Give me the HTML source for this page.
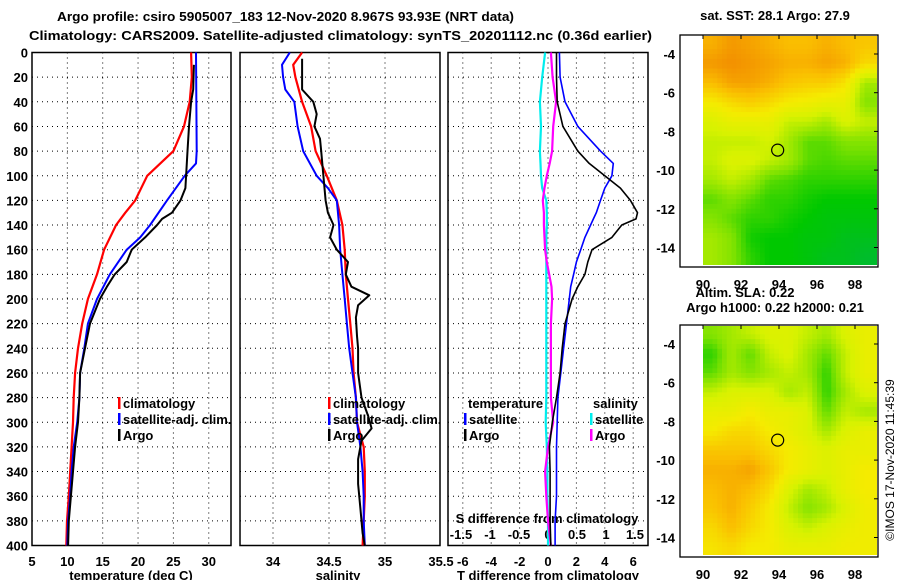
<!DOCTYPE html>
<html><head><meta charset="utf-8"><style>
body{margin:0;background:#fff;}
svg{display:block;font-family:"Liberation Sans",sans-serif;font-weight:bold;font-size:13px;}
</style></head><body>
<svg id="c" width="900" height="580" viewBox="0 0 900 580">
<text x="57" y="21" textLength="457" lengthAdjust="spacingAndGlyphs">Argo profile: csiro 5905007_183 12-Nov-2020 8.967S 93.93E (NRT data)</text>
<text x="29" y="40" textLength="623" lengthAdjust="spacingAndGlyphs">Climatology: CARS2009. Satellite-adjusted climatology: synTS_20201112.nc (0.36d earlier)</text>
<text x="775" y="20" text-anchor="middle">sat. SST: 28.1 Argo: 27.9</text>
<text x="745" y="297" text-anchor="middle">Altim. SLA: 0.22</text>
<text x="775" y="312" text-anchor="middle">Argo h1000: 0.22 h2000: 0.21</text>
<text transform="translate(894,460) rotate(-90)" text-anchor="middle" font-weight="normal" font-size="12">©IMOS 17-Nov-2020 11:45:39</text>
<g id="g"></g>
</svg>
<script>
const tDepth=[0,20,40,60,80,100,120,130,140,160,180,200,220,240,260,280,300,320,340,360,380,400];
const tClim=[27.5,27.6,27.3,26.5,25.0,21.3,19.6,18.2,16.9,15.2,14.2,12.9,12.1,11.5,11.1,10.9,10.8,10.6,10.4,10.2,9.95,9.85];
const tSatDepth=[0,80,90,100,120,140,150,160,180,200,220,240,260,280,300,320,340,360,380,400];
const tSat=[28.2,28.3,28.2,26.6,24.1,21.7,20.3,18.4,16.0,14.2,12.9,12.4,11.8,11.7,11.4,10.9,10.6,10.4,10.1,10.0];
const tArgoDepth=[10,30,40,60,80,100,110,120,130,135,140,150,160,170,180,190,200,220,240,260,280,300,320,340,360,380,400];
const tArgo=[27.9,27.8,27.5,27.2,27.0,26.8,26.7,26.0,24.8,23.4,22.7,21.0,19.1,18.4,16.7,15.6,14.6,13.2,12.5,11.8,11.7,11.5,11.1,10.8,10.5,10.2,10.1];
const sDepth=[0,10,20,40,60,80,100,120,140,160,180,200,220,240,260,280,300,320,340,360,380,400];
const sClim=[34.26,34.18,34.20,34.26,34.34,34.38,34.48,34.57,34.62,34.64,34.65,34.67,34.69,34.71,34.72,34.74,34.75,34.81,34.82,34.82,34.81,34.80];
const sSatDepth=[0,10,20,30,40,60,80,100,110,120,140,160,180,200,220,240,260,280,300,320,340,360,380,400];
const sSat=[34.15,34.08,34.09,34.11,34.19,34.22,34.27,34.39,34.49,34.57,34.59,34.60,34.62,34.64,34.66,34.68,34.71,34.74,34.75,34.78,34.80,34.81,34.81,34.82];
const sArgoDepth=[5,30,40,50,60,70,80,100,120,130,140,150,160,170,180,190,197,205,215,230,240,260,280,295,305,315,330,350,370,390,400];
const sArgo=[34.26,34.26,34.36,34.39,34.37,34.42,34.43,34.45,34.47,34.49,34.54,34.51,34.57,34.67,34.65,34.70,34.86,34.76,34.74,34.75,34.76,34.76,34.79,34.85,34.88,34.79,34.76,34.76,34.78,34.80,34.82];
const dDepth=[0,20,40,60,80,90,100,110,120,130,135,140,150,160,170,180,190,200,220,240,260,280,300,320,340,360,380,400];
const dTSat=[0.8,0.85,1.2,2.1,3.7,4.6,4.5,4.0,3.7,3.4,3.2,3.0,2.6,2.3,2.0,1.8,1.6,1.5,1.3,1.1,0.9,0.7,0.65,0.6,0.6,0.6,0.5,0.5];
const dTArgo=[0.6,0.6,0.65,1.05,2.1,2.9,4.0,5.1,5.8,6.3,6.2,5.2,4.5,3.1,2.8,2.6,2.1,1.7,1.2,1.0,0.85,0.6,0.3,0.1,0.15,0.15,0.15,0.2];
const dSSat=[-0.05,-0.1,-0.14,-0.12,-0.14,-0.13,-0.12,-0.1,-0.03,-0.02,-0.02,-0.02,-0.03,-0.03,-0.03,-0.03,-0.03,-0.03,-0.03,-0.03,-0.03,-0.03,-0.04,-0.02,-0.01,-0.01,0,0];
const dSArgo=[0.05,0.08,0.14,0.09,0.07,0.03,-0.02,-0.06,-0.09,-0.07,-0.07,-0.07,-0.06,-0.05,-0.02,0.02,0.06,0.07,0.05,0.05,0.05,0.05,0.09,0,-0.05,-0.03,0,0.05];
const depthTicks=[0,20,40,60,80,100,120,140,160,180,200,220,240,260,280,300,320,340,360,380,400];
const tTicks=[5,10,15,20,25,30];
const sTicks=["34","34.5","35","35.5"];
const dTTicks=[-6,-4,-2,0,2,4,6];
const dSTicks=["-1.5","-1","-0.5","0","0.5","1","1.5"];
const lonTicks=[90,92,94,96,98];
const latTicks=[-4,-6,-8,-10,-12,-14];
const sstGrid=[
[.75,.8,.78,.75,.72,.72,.75,.72,.7],
[.8,.82,.8,.78,.75,.75,.78,.75,.65],
[.72,.78,.78,.75,.7,.68,.68,.62,.4],
[.6,.65,.68,.65,.6,.58,.55,.55,.35],
[.5,.55,.55,.55,.45,.45,.4,.5,.45],
[.45,.45,.45,.48,.4,.3,.3,.35,.35],
[.45,.5,.5,.45,.4,.3,.28,.3,.3],
[.4,.45,.4,.3,.28,.25,.25,.25,.25],
[.3,.35,.3,.25,.25,.22,.2,.2,.2],
[.35,.3,.25,.25,.22,.2,.18,.18,.18],
[.4,.35,.22,.2,.2,.18,.18,.15,.15],
[.4,.35,.25,.2,.2,.18,.15,.15,.12]];
const slaGrid=[
[.35,.4,.45,.5,.5,.45,.4,.5,.55],
[.25,.4,.3,.45,.5,.4,.3,.45,.55],
[.3,.4,.35,.4,.45,.4,.25,.45,.55],
[.45,.5,.5,.5,.4,.45,.25,.4,.5],
[.55,.55,.6,.55,.55,.5,.3,.45,.4],
[.6,.65,.65,.6,.55,.5,.4,.5,.55],
[.7,.7,.7,.65,.6,.55,.5,.55,.55],
[.75,.75,.78,.7,.6,.55,.5,.55,.6],
[.72,.75,.72,.65,.5,.4,.45,.55,.6],
[.7,.75,.68,.6,.45,.35,.4,.5,.58],
[.65,.72,.65,.6,.5,.45,.5,.55,.58],
[.62,.65,.6,.6,.55,.55,.55,.58,.58]];

const NS='http://www.w3.org/2000/svg';
const G=document.getElementById('g');
function mk(tag,at,parent){const e=document.createElementNS(NS,tag);for(const k in at)e.setAttribute(k,at[k]);(parent||G).appendChild(e);return e;}
const Y=d=>52.5+d*1.2325;
const xT=v=>32+(v-5)*7.07;
const xS=v=>273+(v-34)*112;
const xDT=v=>548+v*14.2;
const xDS=v=>548+v*58;

function panel(x0,x1,name,xs,xfn,labels){
  const r=mk('rect',{x:x0,y:52.5,width:x1-x0,height:493,fill:'none',stroke:'#000','stroke-width':1.5});
  
  depthTicks.forEach(d=>{if(d>0&&d<400){const l=mk('line',{x1:x0,x2:x1,y1:Y(d),y2:Y(d),stroke:'#000','stroke-dasharray':'1,4'});}});
  xs.forEach(v=>{const x=xfn(+v);if(x>x0+2&&x<x1-2){const l=mk('line',{x1:x,x2:x,y1:52.5,y2:545.5,stroke:'#000','stroke-dasharray':'1,4'});}});
  if(labels) xs.forEach(v=>{const t=mk('text',{x:xfn(+v),y:566,'text-anchor':'middle'});t.textContent=v;});
}
panel(32,231,'temperature-panel',tTicks,xT,true);
panel(240,440,'salinity-panel',sTicks,xS,true);
panel(448,648,'difference-panel',dTTicks,xDT,true);
depthTicks.forEach(d=>{const t=mk('text',{x:28,y:Y(d)+5,'text-anchor':'end'});t.textContent=d;});
dSTicks.forEach(v=>{const t=mk('text',{x:xDS(+v),y:539,'text-anchor':'middle'});t.textContent=v;});
[[131,'temperature (deg C)','x-axis-title-temperature'],[338,'salinity','x-axis-title-salinity'],[548,'T difference from climatology','x-axis-title-t-diff'],[547,'S difference from climatology','x-axis-title-s-diff']].forEach((a,i)=>{const t=mk('text',{x:a[0],y:i==3?523:580,'text-anchor':'middle'});t.textContent=a[1];});

function line(ds,vs,fn,col,w,name){
  const p=ds.map((d,i)=>fn(vs[i]).toFixed(1)+','+Y(d).toFixed(1)).join(' ');
  const l=mk('polyline',{points:p,fill:'none',stroke:col,'stroke-width':w,'stroke-linejoin':'round'});
  
}
line(tDepth,tClim,xT,'#f00',2.2,'temp-climatology-line');
line(tSatDepth,tSat,xT,'#00f',2,'temp-satellite-line');
line(tArgoDepth,tArgo,xT,'#000',2,'temp-argo-line');
line(sDepth,sClim,xS,'#f00',2.2,'sal-climatology-line');
line(sSatDepth,sSat,xS,'#00f',2,'sal-satellite-line');
line(sArgoDepth,sArgo,xS,'#000',2,'sal-argo-line');
line(dDepth,dSSat,xDS,'#0ee',2.2,'s-diff-satellite-line');
line(dDepth,dSArgo,xDS,'#f0f',2.2,'s-diff-argo-line');
line(dDepth,dTSat,xDT,'#00f',1.6,'t-diff-satellite-line');
line(dDepth,dTArgo,xDT,'#000',1.6,'t-diff-argo-line');

function leg(x,y,col,txt,name){
  const r=mk('rect',{x:x,y:y-11,width:2.5,height:12,fill:col});
  if(txt){const t=mk('text',{x:x+5,y:y});t.textContent=txt;}
}
leg(118,408,'#f00','climatology','legend-climatology');
leg(118,424,'#00f','satellite-adj. clim.','legend-satellite');
leg(118,440,'#000','Argo','legend-argo');
leg(328,408,'#f00','climatology','legend2-climatology');
leg(328,424,'#00f','satellite-adj. clim.','legend2-satellite');
leg(328,440,'#000','Argo','legend2-argo');
[[468,'temperature'],[593,'salinity']].forEach(a=>{const t=mk('text',{x:a[0],y:408});t.textContent=a[1];});
leg(464,424,'#00f','satellite','legend-t-satellite');
leg(464,440,'#000','Argo','legend-t-argo');
leg(590,424,'#0ee','satellite','legend-s-satellite');
leg(590,440,'#f0f','Argo','legend-s-argo');

function cmap(v){
  const st=[[0,[0,170,110]],[.2,[0,200,0]],[.33,[120,225,0]],[.48,[215,242,0]],[.6,[245,235,0]],[.72,[250,190,0]],[.85,[240,130,0]],[1,[170,10,0]]];
  for(let i=1;i<st.length;i++)if(v<=st[i][0]){const a=st[i-1],b=st[i],t=(v-a[0])/(b[0]-a[0]);return 'rgb('+a[1].map((c,k)=>Math.round(c+(b[1][k]-c)*t)).join(',')+')';}
  return 'rgb(170,10,0)';
}
function sample(grid,r,c){
  const R=grid.length,C=grid[0].length;
  r=Math.max(0,Math.min(R-1,r));c=Math.max(0,Math.min(C-1,c));
  const r0=Math.floor(r),c0=Math.floor(c),r1=Math.min(R-1,r0+1),c1=Math.min(C-1,c0+1),fr=r-r0,fc=c-c0;
  return grid[r0][c0]*(1-fr)*(1-fc)+grid[r0][c1]*(1-fr)*fc+grid[r1][c0]*fr*(1-fc)+grid[r1][c1]*fr*fc;
}
function map(oy,grid,name){
  const X=lon=>703+(lon-90)*19, YY=lat=>oy+54+(-4-lat)*19.35;
  const cid=name+'-clip';
  const cp=mk('clipPath',{id:cid});mk('rect',{x:X(90),y:oy+36,width:877-X(90),height:229},cp);
  const g=mk('g',{'clip-path':'url(#'+cid+')'});
  const sub=4;
  for(let i=0;i<grid.length*sub;i++)for(let j=0;j<grid[0].length*sub+2;j++){
    const lat=-3-i/sub, lon=90+j/sub;
    const v=sample(grid,(i+0.5)/sub-0.5,(j+0.5)/sub-0.5);
    const r=mk('rect',{x:X(lon).toFixed(2),y:YY(lat).toFixed(2),width:19/sub+0.6,height:19.35/sub+0.6,fill:cmap(v)},g);
    
  }
  const f=mk('rect',{x:680,y:oy+35,width:198,height:232,fill:'none',stroke:'#000','stroke-width':1.3});
  
  lonTicks.forEach(l=>{mk('line',{x1:X(l),x2:X(l),y1:oy+35,y2:oy+39,stroke:'#000'});
    const t=mk('text',{x:X(l),y:oy+289,'text-anchor':'middle'});t.textContent=l;});
  latTicks.forEach(l=>{mk('line',{x1:874,x2:878,y1:YY(l),y2:YY(l),stroke:'#000'});
    const t=mk('text',{x:675,y:YY(l)+5,'text-anchor':'end'});t.textContent=l;});
  const c=mk('circle',{cx:X(93.93),cy:YY(-8.967),r:6,fill:'none',stroke:'#000','stroke-width':1.2});
  
}
map(0,sstGrid,'sst-map');
map(290,slaGrid,'sla-map');
</script>
</body></html>
